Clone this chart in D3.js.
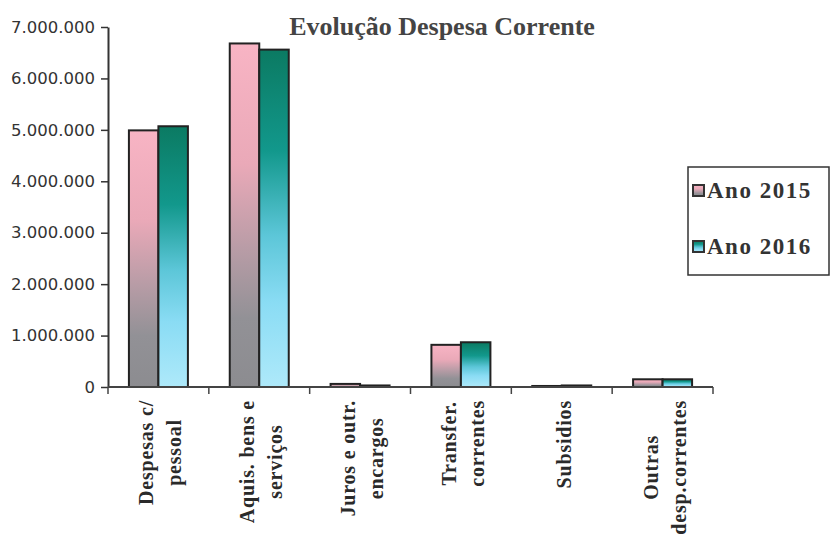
<!DOCTYPE html>
<html>
<head>
<meta charset="utf-8">
<script src="https://cdn.jsdelivr.net/npm/d3@7"></script>
<style>
  body { margin: 0; background: #fff; }
  .title { font-family: 'Liberation Serif', serif; font-weight: bold; font-size: 26px; fill: #444; }
  .ytick text { font-family: 'DejaVu Sans', sans-serif; font-size: 16.5px; fill: #333; }
  .xlab { font-family: 'Liberation Serif', serif; font-weight: bold; font-size: 20px; fill: #2a2a2a; letter-spacing: 0.8px; }
  .legend text { font-family: 'Liberation Serif', serif; font-weight: bold; font-size: 23px; fill: #333; letter-spacing: 1.5px; }
</style>
</head>
<body>
<svg width="831" height="540"></svg>
<script>
//data
const categories = [['Despesas c/', 'pessoal'], ['Aquis. bens e', 'serviços'], ['Juros e outr.', 'encargos'],
  ['Transfer.', 'correntes'], ['Subsidios'], ['Outras', 'desp.correntes']];
const series = ['Ano 2015', 'Ano 2016'];
const values2015 = [4990000, 6680000, 60000, 820000, 20000, 150000];
const values2016 = [5070000, 6560000, 30000, 870000, 30000, 150000];
const yTicks = [0, 1000000, 2000000, 3000000, 4000000, 5000000, 6000000, 7000000];

const svg = d3.select('svg');
const margin = {top: 27, left: 108};
const innerWidth = 605;
const innerHeight = 360;

//gradients for the bars
const defs = svg.append('defs');
const grad1 = defs.append('linearGradient').attr('id', 'g2015')
  .attr('x1', 0).attr('y1', 0).attr('x2', 0).attr('y2', 1);
[[0, '#f8b4c4'], [0.35, '#eaa9b8'], [0.6, '#b89ca6'], [0.8, '#929196'], [1, '#8c8c90']]
  .forEach(s => grad1.append('stop').attr('offset', s[0]).attr('stop-color', s[1]));
const grad2 = defs.append('linearGradient').attr('id', 'g2016')
  .attr('x1', 0).attr('y1', 0).attr('x2', 0).attr('y2', 1);
[[0, '#0b7a62'], [0.3, '#12988c'], [0.55, '#5cc6d8'], [0.75, '#8adcf4'], [1, '#aee9fa']]
  .forEach(s => grad2.append('stop').attr('offset', s[0]).attr('stop-color', s[1]));
const fills = ['url(#g2015)', 'url(#g2016)'];

const g = svg.append('g').attr('transform', `translate(${margin.left}, ${margin.top})`);

//scales
const xScale = d3.scaleBand().domain(d3.range(categories.length)).range([0, innerWidth]);
const xInner = d3.scaleBand().domain([0, 1]).range([0, 59]);
const yScale = d3.scaleLinear().domain([0, 7000000]).range([innerHeight, 0]);

//title
svg.append('text').attr('class', 'title')
  .attr('x', 442).attr('y', 35).attr('text-anchor', 'middle')
  .text('Evolução Despesa Corrente');

//bars
const data = [values2015, values2016];
data.forEach((vals, si) => {
  g.selectAll('.bar' + si).data(vals).enter().append('rect')
    .attr('x', (d, i) => xScale(i) + (xScale.bandwidth() - 59) / 2 + xInner(si))
    .attr('y', d => yScale(d))
    .attr('width', xInner.bandwidth())
    .attr('height', d => innerHeight - yScale(d))
    .attr('fill', fills[si])
    .attr('stroke', '#222')
    .attr('stroke-width', 2);
});

//y axis
const fmt = d => d === 0 ? '0' : d3.format(',')(d).replace(/,/g, '.');
const yAxis = g.append('g').attr('class', 'ytick')
  .call(d3.axisLeft(yScale).tickValues(yTicks).tickFormat(fmt).tickSize(7).tickSizeOuter(0));
yAxis.select('.domain').attr('stroke', '#333').attr('stroke-width', 2);
yAxis.selectAll('.tick line').attr('stroke', '#333').attr('stroke-width', 1.5);
yAxis.selectAll('.tick text').attr('x', -13);

//x axis
const xAxis = g.append('g').attr('transform', `translate(0, ${innerHeight})`);
xAxis.append('line').attr('x1', 0).attr('x2', innerWidth)
  .attr('stroke', '#444').attr('stroke-width', 2);
xAxis.selectAll('.xt').data(d3.range(categories.length + 1)).enter().append('line')
  .attr('x1', d => d * xScale.step()).attr('x2', d => d * xScale.step())
  .attr('y1', 0).attr('y2', 7)
  .attr('stroke', '#444').attr('stroke-width', 1.5);

//rotated category labels
categories.forEach((lines, i) => {
  const cx = xScale(i) + xScale.bandwidth() / 2;
  const lab = g.append('g').attr('class', 'xlab');
  const texts = lines.map((t, j) => lab.append('text')
    .attr('text-anchor', 'middle')
    .text(t));
  const maxLen = d3.max(texts, t => t.node().getComputedTextLength());
  const centre = innerHeight + 13 + maxLen / 2;
  texts.forEach((t, j) => {
    const off = (j - (lines.length - 1) / 2) * 28 + 9;
    t.attr('transform', `translate(${cx + off}, ${centre}) rotate(-90)`);
  });
});

//legend
const legend = svg.append('g').attr('class', 'legend');
legend.append('rect').attr('x', 688).attr('y', 167).attr('width', 141).attr('height', 108)
  .attr('fill', '#fff').attr('stroke', '#333').attr('stroke-width', 1.5);
series.forEach((s, i) => {
  const y = 196 + i * 56;
  legend.append('rect').attr('x', 693).attr('y', y - 11).attr('width', 11).attr('height', 11)
    .attr('fill', fills[i]).attr('stroke', '#333').attr('stroke-width', 2);
  legend.append('text').attr('x', 707).attr('y', y + 2).text(s);
});
</script>
</body>
</html>
